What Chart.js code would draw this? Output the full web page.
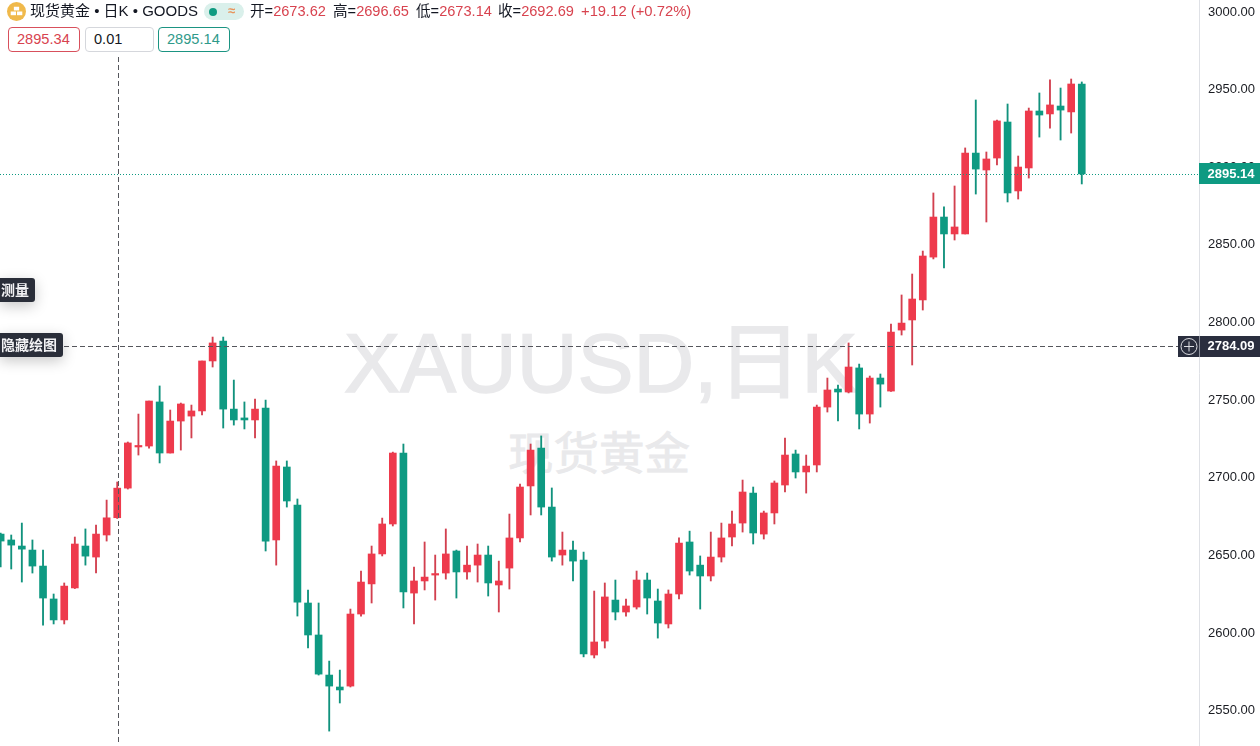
<!DOCTYPE html>
<html lang="zh-CN">
<head>
<meta charset="utf-8">
<title>现货黄金 日K</title>
<script src="https://cdn.jsdelivr.net/npm/chart.js@4"></script>
<style>
html,body{margin:0;padding:0;background:#fff;width:1260px;height:746px;overflow:hidden}
body{position:relative;font-family:"Liberation Sans","Noto Sans CJK SC",sans-serif;color:#131722}
#wrap{position:absolute;left:0;top:0;width:1260px;height:746px}
canvas{position:absolute;left:0;top:0}
.t{position:absolute;white-space:nowrap;line-height:1}
.wm{position:absolute;white-space:nowrap;line-height:1;color:#e9e9eb}
.r{color:#d8434f}
.box{position:absolute;top:27px;height:23px;border:1px solid;border-radius:4px;background:#fff;font-size:14.6px;line-height:23px;box-sizing:content-box}
.lab{position:absolute;left:0;background:#2a2e39;color:#f2f2f4;border-radius:0 3px 3px 0;font-size:14px;font-weight:bold;height:24px;line-height:24px;box-shadow:0 4px 14px rgba(0,0,0,.22)}
</style>
</head>
<body>
<div class="wm" style="left:344px;top:321px;font-size:84px;-webkit-text-stroke:1.6px #e9e9eb">XAUUSD,日K</div>
<div class="wm" style="left:508px;top:432px;font-size:45.5px;-webkit-text-stroke:.8px #e9e9eb">现货黄金</div>
<div id="wrap"><canvas id="c" width="1260" height="746"></canvas></div>

<svg style="position:absolute;left:7px;top:2px" width="19" height="19" viewBox="0 0 18 18"><circle cx="9" cy="9" r="9" fill="#f0b94b"/><rect x="6.5" y="4.5" width="5" height="3.5" fill="#fff"/><rect x="3.5" y="9" width="5" height="3.5" fill="#fff"/><rect x="9.5" y="9" width="5" height="3.5" fill="#fff"/></svg>
<div class="t" style="left:30px;top:3px;font-size:15px">现货黄金 • 日K • GOODS</div>
<div style="position:absolute;left:204px;top:3px;width:40px;height:17px;border-radius:9px;background:#daf0eb"></div>
<div style="position:absolute;left:209px;top:7.5px;width:8px;height:8px;border-radius:50%;background:#0f9b81"></div>
<div class="t" style="left:228px;top:4px;font-size:13px;color:#e8935a;font-weight:bold">≈</div>
<div class="t" style="left:250px;top:4px;font-size:14.6px">开=<span class="r" id="vO"></span></div>
<div class="t" style="left:333px;top:4px;font-size:14.6px">高=<span class="r" id="vH"></span></div>
<div class="t" style="left:416px;top:4px;font-size:14.6px">低=<span class="r" id="vL"></span></div>
<div class="t" style="left:498px;top:4px;font-size:14.6px">收=<span class="r" id="vC"></span></div>
<div class="t r" style="left:581px;top:4px;font-size:14.8px" id="vD"></div>

<div class="box r" style="left:8px;width:62px;padding-left:8px;border-color:#d8505c" id="bid"></div>
<div class="box" style="left:85px;width:59px;padding-left:8px;border-color:#d5d7dc">0.01</div>
<div class="box" style="left:158px;width:62px;padding-left:8px;border-color:#1b9482;color:#2f9a8a" id="ask"></div>

<div class="lab" style="top:278px;width:35px;text-indent:1px">测量</div>
<div class="lab" style="top:333px;width:63px;text-indent:1px">隐藏绘图</div>

<script>
const opens  = [2663.1,2659.3,2655.4,2652.8,2642.5,2621.3,2607.8,2628.4,2655.4,2648.3,2662.5,2673.62,2692.7,2719.2,2719.8,2748.2,2715.3,2735.9,2739.1,2742.4,2774.6,2787.4,2743.6,2737.9,2736.6,2744.3,2659.3,2706.3,2681.8,2618.7,2598.1,2572.3,2564.6,2565.2,2611.6,2631.0,2650.3,2669.6,2715.3,2625.1,2632.9,2636.7,2638.0,2652.2,2638.7,2643.1,2649.6,2630.3,2641.2,2660.6,2694.1,2718.5,2680.5,2649.6,2652.8,2646.4,2585.2,2594.2,2620.6,2612.9,2616.1,2633.5,2620.0,2605.2,2624.5,2658.0,2643.1,2636.1,2648.3,2661.2,2670.2,2689.5,2663.1,2676.7,2694.7,2714.7,2703.1,2707.6,2744.9,2756.5,2754.6,2770.1,2740.4,2763.6,2755.2,2794.5,2801.0,2813.9,2841.5,2867.3,2856.4,2856.4,2908.5,2897.6,2905.3,2928.5,2884.1,2898.9,2935.6,2933.7,2938.8,2935.0,2953.0];
const highs  = [2663.8,2662.5,2670.2,2659.3,2652.8,2624.5,2631.6,2661.2,2666.4,2668.9,2685.0,2696.65,2722.4,2740.4,2748.8,2758.5,2743.0,2747.5,2746.2,2774.6,2790.0,2790.0,2762.3,2748.2,2750.1,2749.4,2710.2,2710.2,2685.7,2627.1,2618.7,2581.3,2575.5,2614.8,2639.3,2655.4,2673.4,2715.9,2721.1,2641.9,2658.0,2649.6,2666.4,2652.8,2655.4,2656.7,2655.4,2645.7,2676.0,2695.3,2721.1,2726.3,2692.8,2664.4,2658.6,2651.5,2626.4,2631.6,2633.5,2621.3,2639.3,2638.0,2627.7,2627.1,2660.6,2665.0,2649.0,2664.4,2670.2,2677.9,2697.9,2693.4,2677.9,2697.3,2725.0,2717.2,2714.0,2746.2,2763.6,2759.1,2786.2,2772.6,2764.9,2766.2,2798.4,2817.1,2830.6,2845.4,2882.8,2873.8,2887.3,2911.8,2942.7,2909.2,2929.8,2940.1,2906.6,2937.5,2947.2,2955.6,2950.4,2956.2,2954.3];
const lows   = [2641.9,2640.6,2632.2,2638.0,2604.5,2605.2,2605.2,2628.0,2643.1,2638.0,2658.6,2673.14,2692.1,2714.0,2718.5,2708.9,2715.3,2717.2,2725.0,2739.8,2770.7,2731.4,2733.3,2730.8,2725.0,2652.2,2643.1,2680.5,2610.3,2589.7,2572.3,2536.2,2554.3,2564.6,2610.3,2618.7,2649.0,2668.3,2615.5,2605.2,2627.1,2620.6,2634.1,2621.9,2634.1,2632.2,2623.2,2612.9,2627.7,2658.0,2675.4,2675.4,2645.7,2643.1,2632.9,2584.0,2583.3,2589.7,2607.8,2610.3,2614.8,2611.6,2596.1,2602.6,2621.3,2636.7,2614.8,2632.9,2645.1,2655.4,2664.4,2656.7,2659.9,2669.6,2690.2,2699.2,2689.5,2703.1,2741.7,2735.9,2754.0,2730.8,2734.6,2744.9,2755.0,2791.3,2772.0,2807.4,2840.3,2834.5,2852.5,2856.4,2882.1,2864.1,2900.8,2877.0,2878.9,2892.4,2918.8,2924.6,2916.9,2921.4,2888.6];
const closes = [2658.6,2656.0,2653.4,2642.5,2621.9,2607.8,2629.6,2656.7,2648.9,2663.1,2673.57,2692.69,2721.8,2719.8,2748.8,2715.3,2735.9,2746.9,2742.4,2774.6,2786.2,2743.6,2736.6,2736.6,2743.6,2658.6,2706.9,2684.4,2619.3,2598.1,2572.9,2565.2,2562.7,2611.6,2632.2,2650.3,2669.6,2715.3,2625.8,2632.9,2635.4,2637.4,2650.3,2638.7,2643.1,2649.6,2631.6,2632.9,2660.6,2693.4,2717.2,2680.5,2648.3,2652.8,2645.7,2585.9,2593.6,2622.6,2612.9,2616.8,2633.5,2621.9,2605.8,2624.5,2657.3,2639.3,2636.1,2648.3,2660.6,2669.6,2690.2,2663.8,2676.7,2696.0,2714.0,2703.1,2706.9,2744.9,2755.9,2754.6,2770.7,2740.4,2763.6,2759.7,2793.2,2799.0,2814.5,2842.2,2867.3,2856.4,2860.9,2908.5,2898.2,2904.7,2929.2,2882.8,2899.5,2935.6,2933.0,2939.5,2936.2,2953.0,2895.14];

const tickValues = [2550,2600,2650,2700,2750,2800,2850,2900,2950,3000];
const lastPrice = 2895.14;
const cursorPrice = 2784.09;
const cursorIndex = 11;
const bidPrice = 2895.34;
const change = "+19.12 (+0.72%)";

const RED = "#ee3a4c", GREEN = "#0e9a82", DARK = "#2a2e3e";
const WICK_RED = "#d2404f", WICK_GREEN = "#11927d";

document.getElementById("vO").textContent = opens[cursorIndex].toFixed(2);
document.getElementById("vH").textContent = highs[cursorIndex].toFixed(2);
document.getElementById("vL").textContent = lows[cursorIndex].toFixed(2);
document.getElementById("vC").textContent = closes[cursorIndex].toFixed(2);
document.getElementById("vD").textContent = change;
document.getElementById("bid").textContent = bidPrice.toFixed(2);
document.getElementById("ask").textContent = lastPrice.toFixed(2);

const up = opens.map((o,i) => closes[i] >= o);

const overlay = {
  id: "overlay",
  afterDraw(chart) {
    const {ctx, scales:{x, y}, chartArea:a} = chart;
    const yLast = Math.round(y.getPixelForValue(lastPrice));
    const yCur = Math.round(y.getPixelForValue(cursorPrice)) + .5;
    const xCur = Math.round(x.getPixelForValue(cursorIndex)) + 1.5;
    ctx.save();
    ctx.lineWidth = 1;
    ctx.strokeStyle = GREEN;
    ctx.setLineDash([1,2]);
    ctx.beginPath(); ctx.moveTo(0, yLast+.5); ctx.lineTo(a.right, yLast+.5); ctx.stroke();
    ctx.strokeStyle = "#55565c";
    ctx.setLineDash([5,3]);
    ctx.beginPath(); ctx.moveTo(0, yCur); ctx.lineTo(1178, yCur); ctx.stroke();
    ctx.beginPath(); ctx.moveTo(xCur, 57); ctx.lineTo(xCur, 743); ctx.stroke();
    ctx.setLineDash([]);
    ctx.fillStyle = GREEN;
    ctx.fillRect(a.right, yLast-11, 61, 21);
    ctx.font = 'bold 13px "Liberation Sans", sans-serif';
    ctx.textBaseline = "middle"; ctx.textAlign = "left";
    ctx.fillStyle = "#fff";
    ctx.fillText(lastPrice.toFixed(2), a.right + 8.5, yLast);
    ctx.fillStyle = DARK;
    ctx.fillRect(1178, yCur-10.5, 82, 21);
    ctx.strokeStyle = "#8a8d99";
    ctx.beginPath(); ctx.moveTo(a.right+.5, yCur-10.5); ctx.lineTo(a.right+.5, yCur+10.5); ctx.stroke();
    ctx.strokeStyle = "#dcdde2";
    ctx.beginPath(); ctx.arc(1189, yCur, 8, 0, Math.PI*2); ctx.stroke();
    ctx.beginPath(); ctx.moveTo(1184, yCur); ctx.lineTo(1194, yCur); ctx.moveTo(1189, yCur-5); ctx.lineTo(1189, yCur+5); ctx.stroke();
    ctx.fillStyle = "#fff";
    ctx.fillText(cursorPrice.toFixed(2), a.right + 8.5, yCur);
    ctx.restore();
  }
};

new Chart(document.getElementById("c"), {
  type: "bar",
  data: {
    datasets: [
      { label: "实体", order: 1, barThickness: 7,
        data: opens.map((o,i) => ({x:i, y:[o, closes[i]]})),
        backgroundColor: up.map(u => u ? RED : GREEN), minBarLength: 1.5 },
      { label: "影线", order: 2, barThickness: 1.2,
        data: highs.map((h,i) => ({x:i, y:[lows[i], h]})),
        backgroundColor: up.map(u => u ? WICK_RED : WICK_GREEN) }
    ]
  },
  options: {
    responsive: false,
    animation: false,
    events: [],
    layout: { padding: 0 },
    grouped: false,
    plugins: { legend: {display:false}, tooltip: {enabled:false} },
    scales: {
      x: { type:"linear", display:false, min:-0.06, max:113.06, offset:false, grid:{display:false} },
      y: { position:"right", min:2526.6, max:3007.09,
           grid:{display:false, drawTicks:false},
           border:{display:true, color:"#dfe1e6", width:1},
           afterBuildTicks(s){ s.ticks = tickValues.map(v => ({value:v})); },
           afterFit(s){ s.width = 61; s.paddingTop = 0; s.paddingBottom = 0; },
           ticks:{ color:"#1a1c22", padding:9, labelOffset:1, autoSkip:false, maxRotation:0,
                   font:{family:'"Liberation Sans", sans-serif', size:13},
                   callback:v => Number(v).toFixed(2) } }
    }
  },
  plugins: [overlay]
});
</script>
</body>
</html>
